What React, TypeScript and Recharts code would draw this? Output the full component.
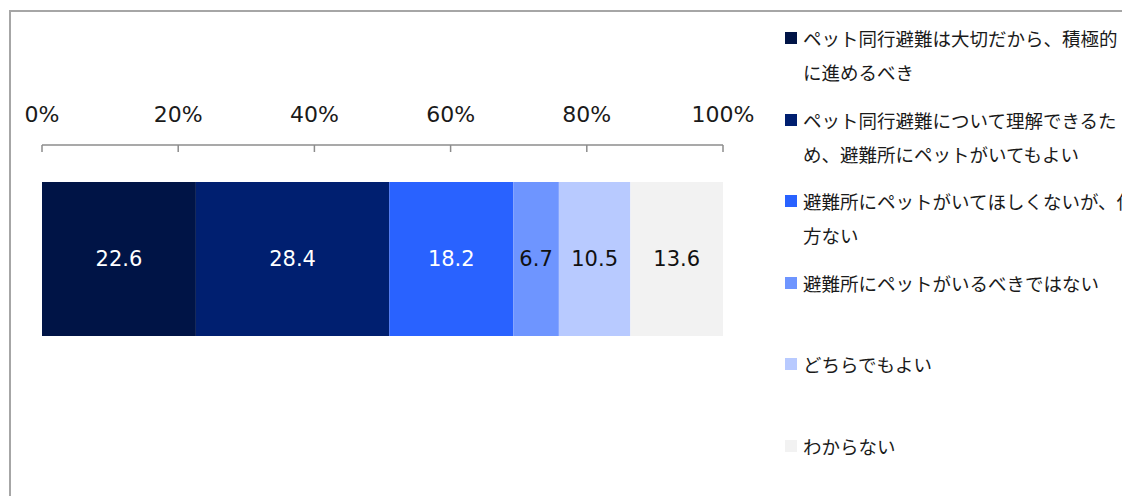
import { Bar, BarChart, LabelList, Legend, XAxis, YAxis } from "recharts";

const categories = ["全体"];
const seriesNames = [
    "ペット同行避難は大切だから、積極的\nに進めるべき",
    "ペット同行避難について理解できるた\nめ、避難所にペットがいてもよい",
    "避難所にペットがいてほしくないが、仕\n方ない",
    "避難所にペットがいるべきではない",
    "どちらでもよい",
    "わからない",
];
const seriesValues = [[22.6], [28.4], [18.2], [6.7], [10.5], [13.6]];
const seriesColors = ["#001446", "#001f70", "#2962ff", "#6e95ff", "#b8caff", "#f2f2f2"];
const labelColors = ["#ffffff", "#ffffff", "#ffffff", "#111111", "#111111", "#111111"];
const xTicks = [0, 20, 40, 60, 80, 100];

const data = categories.map((category, i) => {
    const row: Record<string, string | number> = { category };
    seriesValues.forEach((vals, s) => {
        row[`s${s}`] = vals[i];
    });
    return row;
});

// legend keeps the series order (recharts would sort by name)
const renderLegend = () => (
    <div style={{ fontFamily: '"Noto Sans CJK JP", sans-serif', fontSize: 18.5, color: "#1a1a1a" }}>
        {seriesNames.map((name, i) => (
            <div key={i} style={{ position: "relative", height: 81.5, paddingLeft: 23 }}>
                <span
                    style={{
                        position: "absolute",
                        left: 5,
                        top: 11,
                        width: 12,
                        height: 12,
                        background: seriesColors[i],
                    }}
                />
                <div style={{ whiteSpace: "pre", lineHeight: "34px" }}>{name}</div>
            </div>
        ))}
    </div>
);

export default function App() {
    return (
        <div
            style={{
                position: "absolute",
                left: 0,
                top: 0,
                width: 1122,
                height: 496,
                overflow: "hidden",
                background: "#fff",
            }}
        >
            <div
                style={{
                    position: "absolute",
                    left: 9,
                    top: 10,
                    width: 1300,
                    height: 700,
                    border: "2px solid #a6a6a6",
                }}
            />
            <div style={{ position: "absolute", left: 0, top: 0 }}>
                <BarChart
                    width={1122}
                    height={496}
                    data={data}
                    layout="vertical"
                    margin={{ top: 0, right: 399, bottom: 123, left: 42 }}
                >
                    <XAxis
                        type="number"
                        orientation="top"
                        domain={[0, 100]}
                        ticks={xTicks}
                        tickFormatter={(v) => `${v}%`}
                        height={145}
                        interval={0}
                        tickSize={-7}
                        tickMargin={30}
                        axisLine={{ stroke: "#8c8c8c", strokeWidth: 1.5 }}
                        tickLine={{ stroke: "#8c8c8c", strokeWidth: 1.5 }}
                        tick={{ fill: "#1a1a1a", fontSize: 22, fontFamily: '"DejaVu Sans", sans-serif' }}
                    />
                    <YAxis type="category" dataKey="category" hide />
                    {seriesNames.map((name, s) => (
                        <Bar
                            key={name}
                            dataKey={`s${s}`}
                            name={name}
                            stackId="a"
                            fill={seriesColors[s]}
                            barSize={154}
                            isAnimationActive={false}
                        >
                            <LabelList
                                dataKey={`s${s}`}
                                position="center"
                                fill={labelColors[s]}
                                fontSize={21}
                                fontFamily='"DejaVu Sans", sans-serif'
                                formatter={(v: any) => Number(v).toFixed(1)}
                            />
                        </Bar>
                    ))}
                    <Legend
                        layout="vertical"
                        align="center"
                        verticalAlign="middle"
                        content={renderLegend}
                        wrapperStyle={{ left: 780, top: 21, width: 420 }}
                    />
                </BarChart>
            </div>
        </div>
    );
}
